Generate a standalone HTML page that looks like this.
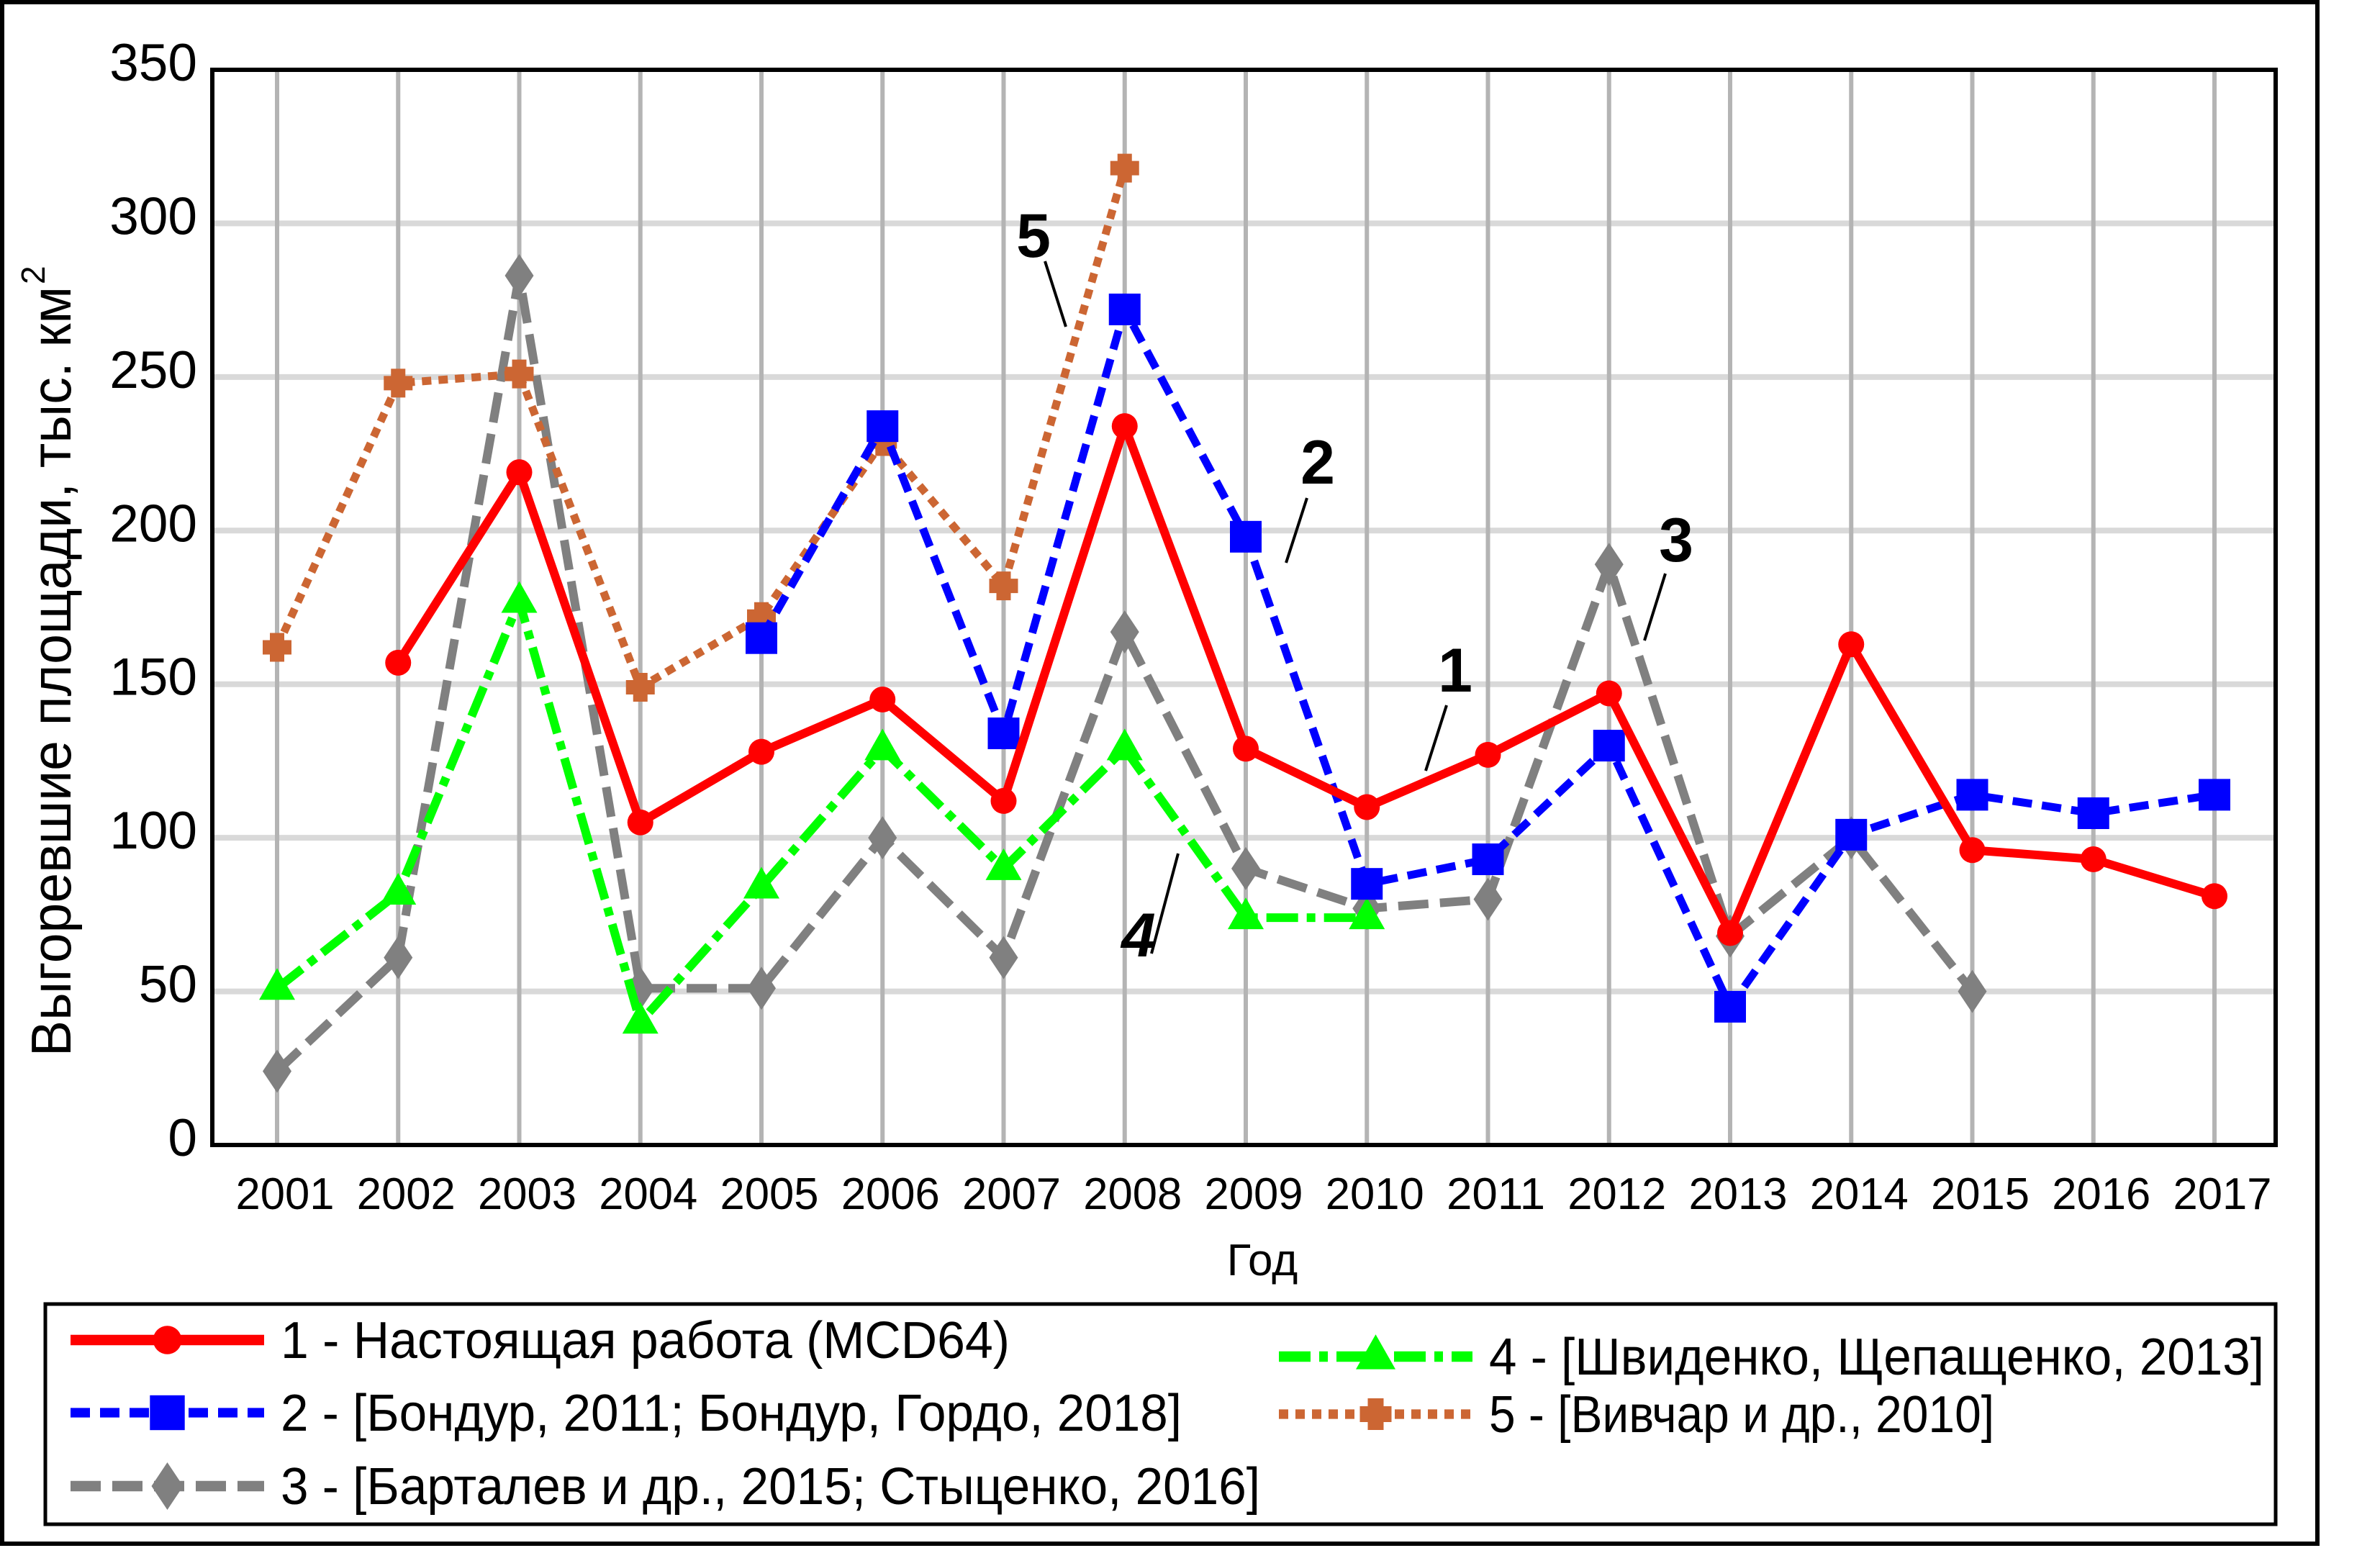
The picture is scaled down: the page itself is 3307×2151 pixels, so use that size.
<!DOCTYPE html>
<html><head><meta charset="utf-8"><style>
html,body{margin:0;padding:0;background:#fff}
svg{display:block}
text{font-family:"Liberation Sans",Arial,sans-serif;fill:#000}
</style></head><body>
<svg id="chart" width="3307" height="2151" viewBox="0 0 3307 2151" xmlns="http://www.w3.org/2000/svg">
<rect x="3" y="3" width="3217" height="2142" fill="#fff" stroke="#000" stroke-width="6"/>
<g id="grid"></g>
<g id="series"></g>
<rect x="295" y="97" width="2867" height="1494" fill="none" stroke="#000" stroke-width="6"/>
<g id="axes"></g>
<text transform="translate(98,1468) rotate(-90)" font-size="78" textLength="1070" lengthAdjust="spacingAndGlyphs">Выгоревшие площади, тыс. км</text>
<text transform="translate(62,395) rotate(-90)" font-size="46">2</text>
<text x="1754" y="1772" font-size="62" text-anchor="middle">Год</text>
<g font-weight="bold" font-size="86" stroke="#000">
<text x="1436" y="357" text-anchor="middle" stroke="none">5</text>
<line x1="1452" y1="363" x2="1481" y2="454" stroke-width="4"/>
<text x="1831" y="672" text-anchor="middle" stroke="none">2</text>
<line x1="1816" y1="692" x2="1787" y2="782" stroke-width="4"/>
<text x="2329" y="780" text-anchor="middle" stroke="none">3</text>
<line x1="2314" y1="797" x2="2285" y2="890" stroke-width="4"/>
<text x="2022" y="961" text-anchor="middle" stroke="none">1</text>
<line x1="2010" y1="980" x2="1981" y2="1071" stroke-width="4"/>
<text x="1582" y="1329" text-anchor="middle" font-style="italic" stroke="none">4</text>
<line x1="1637" y1="1186" x2="1600" y2="1325" stroke-width="4"/>
</g>
<rect x="63" y="1812" width="3099" height="306" fill="none" stroke="#000" stroke-width="5"/>
<g id="legend"></g>
</svg>
<script>
const years = [2001,2002,2003,2004,2005,2006,2007,2008,2009,2010,2011,2012,2013,2014,2015,2016,2017];
const yTicks = [0,50,100,150,200,250,300,350];
const s1 = [null,157,219,105,128,145,112,234,129,110,127,147,69,163,96,93,81];
const s2 = [null,null,null,null,165,234,134,272,198,85,93,130,45,101,114,108,114];
const s3 = [24,61,283,51,51,100,61,167,90,77,80,189,68,100,50,null,null];
const s4 = [51,82,177,40,84,129,90,129,74,74,null,null,null,null,null,null,null];
const s5 = [162,248,251,149,172,229,182,318,null,null,null,null,null,null,null,null,null];
const legendLabels = ["1 - Настоящая работа (MCD64)","2 - [Бондур, 2011; Бондур, Гордо, 2018]","3 - [Барталев и др., 2015; Стыценко, 2016]","4 - [Швиденко, Щепащенко, 2013]","5 - [Вивчар и др., 2010]"];

const NS="http://www.w3.org/2000/svg";
const X0=385, XS=168.25, Y0=1591, YS=1494/350;
function xs(i){return X0+XS*i;}
function ys(v){return Y0-v*YS;}
function mk(tag,attrs,parent){const e=document.createElementNS(NS,tag);for(const k in attrs)e.setAttribute(k,attrs[k]);parent.appendChild(e);return e;}
const grid=document.getElementById('grid'), axes=document.getElementById('axes'), ser=document.getElementById('series'), leg=document.getElementById('legend');

yTicks.forEach(v=>{
  if(v>0&&v<350){const l=mk('line',{x1:298,x2:3159,y1:ys(v),y2:ys(v),stroke:'#d9d9d9','stroke-width':8},grid);
  
  }
  const t=mk('text',{x:274,y:ys(v)+15,'font-size':73,'text-anchor':'end'},axes);
  t.textContent=v;
  
  
});
years.forEach((y,i)=>{
  const l=mk('line',{x1:xs(i),x2:xs(i),y1:100,y2:1591,stroke:'#b4b4b4','stroke-width':6},grid);
  
  
  const t=mk('text',{x:xs(i)+11,y:1680,'font-size':62,'text-anchor':'middle',textLength:137,lengthAdjust:'spacingAndGlyphs'},axes);
  t.textContent=y;
  
  
});

function marker(type,x,y,color,parent,s){
  s=s||1;let e;
  if(type==='circle') e=mk('circle',{cx:x,cy:y,r:18*s,fill:color},parent);
  else if(type==='square') e=mk('rect',{x:x-22*s,y:y-22*s,width:44*s,height:44*s,fill:color},parent);
  else if(type==='diamond') e=mk('polygon',{points:`${x},${y-30*s} ${x+20*s},${y} ${x},${y+30*s} ${x-20*s},${y}`,fill:color},parent);
  else if(type==='triangle') e=mk('polygon',{points:`${x},${y-28*s} ${x+25*s},${y+16*s} ${x-25*s},${y+16*s}`,fill:color},parent);
  else e=mk('path',{d:`M${x-10*s},${y-20*s}h${20*s}v${10*s}h${10*s}v${20*s}h${-10*s}v${10*s}h${-20*s}v${-10*s}h${-10*s}v${-20*s}h${10*s}z`,fill:color},parent);
  return e;
}
const defs=[
 {d:s3,c:'#808080',w:12,dash:'42 16',m:'diamond',n:'series-3-bartalev'},
 {d:s4,c:'#00ff00',w:12,dash:'44 12 12 12',m:'triangle',n:'series-4-shvidenko'},
 {d:s5,c:'#cc6633',w:11,dash:'13 10',m:'plus',n:'series-5-vivchar'},
 {d:s2,c:'#0000ff',w:11,dash:'27 14',m:'square',n:'series-2-bondur'},
 {d:s1,c:'#ff0000',w:12,dash:'',m:'circle',n:'series-1-mcd64'}
];
defs.forEach(s=>{
  const g=mk('g',{},ser);
  
  
  let pts=[];
  s.d.forEach((v,i)=>{if(v!==null)pts.push(xs(i)+','+ys(v));});
  const pl=mk('polyline',{points:pts.join(' '),fill:'none',stroke:s.c,'stroke-width':s.w,'stroke-dasharray':s.dash,'stroke-linejoin':'round'},g);
  
  
  s.d.forEach((v,i)=>{if(v!==null){const m=marker(s.m,xs(i),ys(v),s.c,g);
    
    }});
});
const legPos=[[98,1862,1013],[98,1963,1252],[98,2065,1361],[1777,1885,1077],[1777,1965,702]];
const legOrder=[4,3,0,1,2];
legendLabels.forEach((lab,k)=>{
  const s=defs[legOrder[k]], p=legPos[k];
  const g=mk('g',{},leg);
  
  
  const x2=p[0]+269;
  mk('line',{x1:p[0],x2:x2,y1:p[1],y2:p[1],stroke:s.c,'stroke-width':s.w*1.2,'stroke-dasharray':s.dash},g);
  marker(s.m,(p[0]+x2)/2,p[1],s.c,g,1.1);
  const t=mk('text',{x:p[0]+292,y:p[1]+25,'font-size':72,textLength:p[2],lengthAdjust:'spacingAndGlyphs'},g);
  t.textContent=lab;
  
  
});
</script>
</body></html>
